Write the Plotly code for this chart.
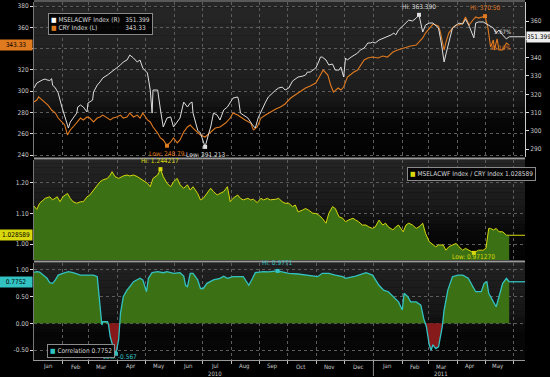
import numpy as np
import pandas as pd
import plotly.graph_objects as go

START = pd.Timestamp("2010-01-01")
END = pd.Timestamp("2011-06-13")

# ---------------- data (days since 2010-01-01, values) ----------------
msel_days = [0, 3, 9, 12, 14, 17, 19, 20, 23, 26, 30, 33, 37, 39, 42, 46, 47, 50, 53, 57, 58, 63, 64, 68, 71, 74,
             79, 82, 85, 89, 93, 96, 100, 103, 107, 111, 114, 117, 122, 125, 127, 128, 133, 136, 139, 143, 147,
             150, 154, 157, 161, 165, 168, 170, 171, 176, 179, 184, 188, 190, 193, 197, 200, 204, 208, 211, 214,
             219, 220, 222, 225, 230, 235, 238, 241, 246, 249, 252, 256, 260, 263, 267, 270, 274, 278, 281, 284,
             289, 292, 294, 297, 300, 303, 306, 308, 310, 314, 317, 321, 324, 328, 330, 333, 335, 337, 341, 344,
             348, 351, 355, 359, 362, 364, 367, 371, 375, 380, 384, 387, 389, 392, 397, 400, 403, 407, 411, 414,
             418, 421, 425, 429, 432, 435, 438, 441, 443, 446, 450, 454, 457, 461, 464, 468, 472, 473, 475, 478,
             483, 486, 489, 494, 497, 500, 504, 508, 511]
msel_vals = [323.4, 326.1, 327.8, 328.3, 327.8, 327.5, 328.5, 325.0, 323.4, 320.7, 313.0, 308.6, 301.5, 304.8,
             307.0, 309.7, 313.0, 314.1, 313.0, 310.3, 315.2, 316.8, 321.2, 325.0, 326.7, 328.9, 330.5, 331.6,
             333.2, 334.3, 336.0, 337.6, 338.7, 341.4, 339.8, 337.6, 338.7, 334.3, 331.6, 322.3, 309.7, 322.3,
             322.3, 311.4, 302.1, 307.0, 307.6, 302.1, 304.8, 307.0, 315.7, 313.0, 315.2, 315.7, 309.7, 300.4,
             298.8, 291.213, 298.8, 302.1, 309.7, 308.6, 305.9, 311.4, 313.0, 315.7, 317.9, 318.5, 316.8, 309.7,
             308.6, 307.0, 303.2, 301.5, 307.0, 313.0, 315.7, 318.5, 320.7, 322.3, 323.4, 323.9, 322.3, 323.4,
             327.2, 328.3, 329.4, 329.9, 330.5, 332.1, 332.1, 333.2, 334.3, 337.6, 340.3, 340.3, 338.7, 336.0,
             336.5, 333.2, 333.2, 334.9, 329.4, 339.8, 338.7, 340.3, 341.4, 342.5, 344.2, 345.2, 348.0, 348.0,
             348.5, 348.0, 349.6, 350.5, 351.3, 352.4, 353.4, 352.4, 355.1, 357.8, 358.9, 360.5, 360.0, 361.6,
             363.39, 354.0, 357.8, 358.9, 358.9, 357.8, 356.2, 348.0, 337.6, 342.0, 348.0, 356.2, 357.8, 358.9,
             358.3, 361.0, 357.2, 351.3, 350.8, 358.9, 359.5, 359.5, 358.5, 357.8, 356.2, 353.4, 355.1, 352.4,
             350.2, 351.399]

cry_days = [0, 3, 5, 9, 12, 15, 19, 23, 26, 30, 33, 36, 39, 42, 46, 50, 53, 57, 60, 64, 68, 71, 74, 79, 82, 85,
            89, 93, 96, 100, 103, 107, 111, 114, 117, 122, 125, 128, 133, 136, 139, 143, 147, 150, 154, 157, 161,
            165, 168, 171, 176, 179, 184, 190, 195, 200, 206, 211, 214, 219, 222, 227, 233, 236, 240, 244, 249,
            254, 260, 265, 270, 276, 281, 287, 292, 297, 303, 308, 311, 316, 319, 322, 327, 330, 333, 337, 341,
            344, 348, 351, 355, 359, 364, 370, 375, 380, 386, 391, 397, 402, 405, 411, 418, 421, 425, 429, 432,
            435, 437, 441, 443, 446, 450, 454, 457, 461, 464, 468, 472, 475, 478, 483, 485, 488, 491, 494, 495,
            498, 500, 504, 508, 511]
cry_vals = [289.9, 291.7, 294.6, 291.7, 288.9, 287.0, 282.3, 279.5, 274.8, 271.1, 268.3, 258.9, 263.6, 266.4,
            270.1, 274.8, 273.0, 275.8, 274.8, 271.1, 274.8, 275.8, 277.6, 274.8, 273.0, 274.8, 275.8, 277.6,
            274.8, 275.8, 279.5, 275.8, 277.6, 274.8, 279.5, 273.0, 271.1, 266.4, 260.7, 256.1, 254.2, 248.79,
            252.3, 256.1, 251.4, 254.2, 261.7, 266.4, 268.3, 265.4, 261.7, 258.9, 257.0, 261.7, 265.4, 266.4,
            270.1, 274.8, 279.5, 277.6, 275.8, 273.0, 270.1, 263.6, 266.4, 274.8, 277.6, 280.5, 283.3, 285.2,
            288.0, 293.6, 296.4, 300.2, 303.0, 304.9, 307.7, 315.2, 319.9, 315.2, 305.8, 299.2, 303.0, 301.1,
            303.9, 313.3, 316.1, 318.0, 319.9, 323.7, 329.3, 331.2, 332.1, 331.2, 333.0, 332.1, 336.8, 338.7,
            340.6, 341.5, 342.4, 343.4, 350.0, 354.6, 359.3, 363.1, 362.2, 361.0, 355.6, 338.7, 346.2, 354.6,
            359.3, 362.2, 362.2, 364.0, 369.7, 362.2, 366.9, 369.7, 368.7, 369.5, 370.50, 360.3, 341.5, 348.1,
            338.7, 349.1, 338.7, 338.7, 345.3, 343.33]

ratio_days = [0, 3, 6, 12, 17, 20, 25, 28, 31, 36, 39, 42, 46, 50, 53, 57, 60, 64, 68, 71, 74, 79, 82, 84, 87,
              91, 96, 100, 103, 107, 111, 114, 117, 122, 125, 128, 133, 136, 139, 143, 147, 150, 154, 157, 161,
              165, 168, 171, 176, 179, 182, 186, 190, 193, 197, 200, 204, 208, 211, 214, 219, 222, 225, 230, 233,
              236, 240, 244, 247, 251, 254, 260, 263, 267, 270, 274, 278, 281, 284, 289, 292, 295, 300, 303, 306,
              310, 314, 317, 321, 324, 328, 332, 335, 338, 343, 346, 349, 353, 357, 360, 364, 367, 371, 375, 378,
              381, 386, 389, 392, 397, 400, 403, 407, 411, 414, 418, 421, 425, 429, 432, 435, 440, 443, 446, 450,
              454, 457, 461, 464, 468, 472, 473, 475, 478, 483, 486, 489, 491, 494, 497, 500, 504, 508, 511]
ratio_vals = [1.124, 1.113, 1.133, 1.149, 1.154, 1.144, 1.154, 1.138, 1.154, 1.165, 1.149, 1.138, 1.133, 1.138,
              1.138, 1.154, 1.160, 1.176, 1.193, 1.203, 1.209, 1.214, 1.225, 1.236, 1.220, 1.214, 1.222, 1.225,
              1.222, 1.225, 1.220, 1.214, 1.209, 1.198, 1.187, 1.214, 1.225, 1.244217, 1.220, 1.198, 1.187, 1.203,
              1.214, 1.193, 1.182, 1.193, 1.176, 1.187, 1.165, 1.144, 1.149, 1.165, 1.182, 1.171, 1.160, 1.165,
              1.171, 1.187, 1.138, 1.149, 1.160, 1.149, 1.144, 1.149, 1.144, 1.146, 1.135, 1.149, 1.144, 1.149,
              1.144, 1.146, 1.149, 1.138, 1.133, 1.133, 1.122, 1.127, 1.105, 1.111, 1.116, 1.111, 1.100, 1.100,
              1.095, 1.084, 1.068, 1.100, 1.122, 1.116, 1.089, 1.084, 1.073, 1.078, 1.084, 1.078, 1.073, 1.062,
              1.062, 1.056, 1.051, 1.056, 1.078, 1.062, 1.068, 1.056, 1.046, 1.056, 1.062, 1.040, 1.062, 1.068,
              1.062, 1.051, 1.056, 1.068, 1.035, 1.008, 0.997, 0.991, 0.997, 0.997, 0.980, 0.991, 0.997, 1.002,
              0.991, 0.980, 0.986, 0.980, 0.975, 0.97127, 0.975, 0.980, 0.980, 0.986, 1.051, 1.051, 1.046, 1.051,
              1.040, 1.040, 1.029, 1.028589]

corr_days = [0, 3, 6, 10, 14, 17, 20, 23, 26, 31, 37, 42, 50, 57, 64, 68, 69, 71, 73, 74, 79, 80, 82, 85, 88, 91,
             93, 96, 100, 103, 107, 114, 117, 121, 123, 127, 133, 139, 143, 150, 157, 161, 163, 165, 168, 171, 176,
             179, 182, 186, 193, 200, 204, 208, 214, 225, 231, 235, 238, 247, 252, 262, 268, 274, 284, 295, 305,
             310, 317, 324, 332, 335, 346, 357, 364, 371, 376, 381, 387, 392, 396, 398, 402, 405, 411, 416, 419,
             422, 425, 427, 429, 432, 435, 439, 441, 445, 450, 456, 461, 467, 472, 475, 481, 484, 487, 489, 494,
             497, 500, 504, 508, 511]
corr_vals = [0.95, 0.963, 0.955, 0.90, 0.84, 0.757, 0.746, 0.81, 0.90, 0.933, 0.963, 0.944, 0.90, 0.90, 0.90,
             0.87, 0.683, 0.248, -0.03, 0.03, 0.03, -0.01, -0.25, -0.437, -0.567, -0.31, 0.187, 0.496, 0.62, 0.683,
             0.776, 0.84, 0.81, 0.59, 0.84, 0.944, 0.963, 0.944, 0.963, 0.933, 0.944, 0.88, 0.71, 0.683, 0.933,
             0.933, 0.81, 0.65, 0.65, 0.746, 0.81, 0.84, 0.88, 0.84, 0.87, 0.87, 0.71, 0.84, 0.944, 0.963, 0.96,
             0.9771, 0.96, 0.933, 0.92, 0.90, 0.87, 0.933, 0.933, 0.90, 0.87, 0.84, 0.88, 0.944, 0.90, 0.71, 0.62,
             0.59, 0.496, 0.40, 0.248, 0.56, 0.496, 0.40, 0.40, 0.34, 0.093, -0.063, -0.40, -0.50, -0.40, -0.47,
             -0.437, -0.063, 0.248, 0.62, 0.87, 0.90, 0.90, 0.84, 0.683, 0.59, 0.59, 0.746, 0.776, 0.56, 0.40,
             0.31, 0.496, 0.746, 0.84, 0.7752]

month_labels = ["Jan", "Feb", "Mar", "Apr", "May", "Jun", "Jul", "Aug", "Sep", "Oct", "Nov", "Dec",
                "Jan", "Feb", "Mar", "Apr", "May"]
year_labels = ["2010", "2011"]
year_label_dates = ["2010-07-15", "2011-03-15"]
left1_ticks = [240, 260, 280, 300, 320, 340, 360, 380]
right1_ticks = [290, 300, 310, 320, 330, 340, 350, 360]
ratio_ticks = [1.00, 1.10, 1.20]
corr_ticks = [-0.50, 0.00, 0.50, 1.00]
pct_labels = ["5.67%", "35.19%"]

# ---------------- styling ----------------
FONT = "DejaVu Sans Condensed, Liberation Sans Narrow, DejaVu Sans, sans-serif"
WHITE = "#dedede"
ORANGE = "#e07a1f"
YELLOW = "#d8d80c"
CYAN = "#33c2c2"
GREEN = "#3c7014"
RED = "#861a1a"
GRID = "#5c5c5c"
TICKC = "#c8c8c8"


def to_dates(days):
    return START + pd.to_timedelta(np.asarray(days, dtype=float), unit="D")


def py(px):  # pixel row -> paper y
    return (360 - px) / 358


def px_x(px):  # pixel column -> paper x
    return (px - 34) / 491


msel_d = to_dates(msel_days)
cry_d = to_dates(cry_days)
ratio_d = to_dates(ratio_days)
corr_d = to_dates(corr_days)

month_pos = pd.date_range("2010-01-01", periods=len(month_labels), freq="MS") + pd.Timedelta(days=14)
month_bounds = pd.date_range("2010-02-01", "2011-06-01", freq="MS")


def split_sign(days, vals):
    xs, pos, neg = [], [], []
    for i, v in enumerate(vals):
        if i > 0:
            a = vals[i - 1]
            if a * v < 0:
                t = a / (a - v)
                xs.append(days[i - 1] + t * (days[i] - days[i - 1]))
                pos.append(0.0)
                neg.append(0.0)
        xs.append(days[i])
        pos.append(max(v, 0.0))
        neg.append(min(v, 0.0))
    return to_dates(xs), pos, neg


fig = go.Figure()

# ---- panel 1 ----
fig.add_trace(go.Scatter(x=cry_d, y=cry_vals, mode="lines", line=dict(color=ORANGE, width=1.1),
                         xaxis="x3", yaxis="y", hoverinfo="skip"))
fig.add_trace(go.Scatter(x=msel_d, y=msel_vals, mode="lines", line=dict(color=WHITE, width=1),
                         xaxis="x3", yaxis="y4", hoverinfo="skip"))
fig.add_trace(go.Scatter(x=[msel_d[-1], END], y=[msel_vals[-1], msel_vals[-1]], mode="lines",
                         line=dict(color=WHITE, width=1), xaxis="x3", yaxis="y4", hoverinfo="skip"))

# ---- panel 2 ----
fig.add_trace(go.Scatter(x=ratio_d, y=ratio_vals, mode="lines", fill="tozeroy", fillcolor=GREEN,
                         line=dict(color=YELLOW, width=1), xaxis="x2", yaxis="y2", hoverinfo="skip"))
fig.add_trace(go.Scatter(x=[ratio_d[-1], END], y=[ratio_vals[-1], ratio_vals[-1]], mode="lines",
                         line=dict(color=YELLOW, width=1), xaxis="x2", yaxis="y2", hoverinfo="skip"))

# ---- panel 3 ----
cx, cpos, cneg = split_sign(corr_days, corr_vals)
fig.add_trace(go.Scatter(x=cx, y=cpos, mode="lines", fill="tozeroy", fillcolor=GREEN,
                         line=dict(width=0, color=GREEN), xaxis="x", yaxis="y3", hoverinfo="skip"))
fig.add_trace(go.Scatter(x=cx, y=cneg, mode="lines", fill="tozeroy", fillcolor=RED,
                         line=dict(width=0, color=RED), xaxis="x", yaxis="y3", hoverinfo="skip"))
fig.add_trace(go.Scatter(x=corr_d, y=corr_vals, mode="lines", line=dict(color=CYAN, width=1.3),
                         xaxis="x", yaxis="y3", hoverinfo="skip"))
fig.add_trace(go.Scatter(x=[corr_d[-1], END], y=[corr_vals[-1], corr_vals[-1]], mode="lines",
                         line=dict(color=CYAN, width=1.3), xaxis="x", yaxis="y3", hoverinfo="skip"))

# ---- hi / low markers and labels ----
annotations = []


def extreme(dates, vals, kind, xa, ya, color, fmt, yshift=None, xshift=0):
    i = int(np.argmax(vals)) if kind == "Hi" else int(np.argmin(vals))
    fig.add_trace(go.Scatter(x=[dates[i]], y=[vals[i]], mode="markers",
                             marker=dict(symbol="square", size=4, color=color),
                             xaxis=xa, yaxis=ya, hoverinfo="skip"))
    if yshift is None:
        yshift = 2 if kind == "Hi" else -2
        yanchor = "bottom" if kind == "Hi" else "top"
    else:
        yanchor = "middle"
    annotations.append(dict(x=dates[i], y=vals[i], xref=xa, yref=ya, showarrow=False,
                            text=f"{kind}: {vals[i]:{fmt}}", font=dict(size=6.5, color=color, family=FONT),
                            yanchor=yanchor, yshift=yshift, xshift=xshift))


extreme(msel_d, msel_vals, "Hi", "x3", "y4", WHITE, ".3f")
extreme(msel_d, msel_vals, "Low", "x3", "y4", WHITE, ".3f")
extreme(cry_d, cry_vals, "Hi", "x3", "y", ORANGE, ".2f")
extreme(cry_d, cry_vals, "Low", "x3", "y", ORANGE, ".2f")
extreme(ratio_d, ratio_vals, "Hi", "x2", "y2", YELLOW, ".6f")
extreme(ratio_d, ratio_vals, "Low", "x2", "y2", YELLOW, ".6f", yshift=-4)
extreme(corr_d, corr_vals, "Hi", "x", "y3", CYAN, ".4f")
extreme(corr_d, corr_vals, "Low", "x", "y3", CYAN, ".3f", yshift=-3.5, xshift=4)

# percent labels at end of panel 1
annotations.append(dict(x=px_x(513), xref="paper", y=msel_vals[-1], yref="y4", yshift=5, showarrow=False,
                        text=pct_labels[0], font=dict(size=6, color=WHITE, family=FONT)))
annotations.append(dict(x=px_x(513), xref="paper", y=cry_vals[-1], yref="y", yshift=-2, showarrow=False,
                        text=pct_labels[1], font=dict(size=6, color=ORANGE, family=FONT)))

# last-value boxes on axes
annotations.append(dict(x=0, xref="paper", xanchor="right", xshift=-1, y=cry_vals[-1], yref="y",
                        text=f"{cry_vals[-1]:.2f}", showarrow=False, bgcolor=ORANGE, width=30, borderpad=1,
                        font=dict(size=6.5, color="#000", family=FONT)))
annotations.append(dict(x=1, xref="paper", xanchor="left", xshift=1, y=msel_vals[-1], yref="y4",
                        text=f"{msel_vals[-1]:.3f}", showarrow=False, bgcolor="#eeeeee", width=22, borderpad=1,
                        font=dict(size=6.5, color="#000", family=FONT)))
annotations.append(dict(x=0, xref="paper", xanchor="right", xshift=-1, y=ratio_vals[-1], yref="y2",
                        text=f"{ratio_vals[-1]:.6f}", showarrow=False, bgcolor=YELLOW, width=30, borderpad=1,
                        font=dict(size=6.5, color="#000", family=FONT)))
annotations.append(dict(x=0, xref="paper", xanchor="right", xshift=-1, y=corr_vals[-1], yref="y3",
                        text=f"{corr_vals[-1]:.4f}", showarrow=False, bgcolor=CYAN, width=30, borderpad=1,
                        font=dict(size=6.5, color="#000", family=FONT)))

# legends
NB = "\u00a0"
annotations.append(dict(
    x=px_x(48), y=py(13), xref="paper", yref="paper", xanchor="left", yanchor="top", showarrow=False,
    align="left", bgcolor="rgba(0,0,0,0.85)", bordercolor="#8a8a8a", borderwidth=1, borderpad=2,
    font=dict(size=6.5, color="#d8d8d8", family=FONT),
    text=(f"<span style='color:#ffffff'>■</span> MSELACWF Index (R){NB * 3}{msel_vals[-1]:.3f}<br>"
          f"<span style='color:{ORANGE}'>■</span> CRY Index (L){NB * 15}{cry_vals[-1]:.2f}")))
annotations.append(dict(
    x=px_x(407), y=py(167), xref="paper", yref="paper", xanchor="left", yanchor="top", showarrow=False,
    align="left", bgcolor="rgba(0,0,0,0.85)", bordercolor="#8a8a8a", borderwidth=1, borderpad=2,
    font=dict(size=6.5, color="#d8d8d8", family=FONT),
    text=f"<span style='color:{YELLOW}'>■</span> MSELACWF Index / CRY Index {ratio_vals[-1]:.6f}"))
annotations.append(dict(
    x=px_x(47), y=py(344), xref="paper", yref="paper", xanchor="left", yanchor="top", showarrow=False,
    align="left", bgcolor="rgba(0,0,0,0.85)", bordercolor="#8a8a8a", borderwidth=1, borderpad=2,
    font=dict(size=6.5, color="#d8d8d8", family=FONT),
    text=f"<span style='color:{CYAN}'>■</span> Correlation {corr_vals[-1]:.4f}"))

# month labels and year labels under the bottom axis
for lab, d in zip(month_labels, month_pos):
    annotations.append(dict(x=d, xref="x", y=py(366), yref="paper", showarrow=False, text=lab,
                            yanchor="middle", font=dict(size=6, color=TICKC, family=FONT)))
for lab, d in zip(year_labels, year_label_dates):
    annotations.append(dict(x=d, xref="x", y=py(373.5), yref="paper", showarrow=False, text=lab,
                            yanchor="middle", font=dict(size=6, color=TICKC, family=FONT)))

# ---------------- background gradients & separators ----------------
shapes = []


def gradient(top_px, bot_px, stops, n=28):
    fs = [s[0] for s in stops]
    gs = [s[1] for s in stops]
    h = (bot_px - top_px) / n
    for i in range(n):
        g = int(round(np.interp((i + 0.5) / n, fs, gs)))
        shapes.append(dict(type="rect", xref="paper", yref="paper", x0=0, x1=1,
                           y0=py(top_px + (i + 1) * h + 0.3), y1=py(top_px + i * h),
                           fillcolor=f"rgb({g},{g},{g})", line=dict(width=0), layer="below"))


gradient(2, 157, [(0, 38), (0.55, 30), (0.66, 20), (0.78, 6), (1, 2)])
gradient(160, 260, [(0, 36), (0.45, 26), (0.72, 8), (1, 3)])
gradient(263, 360, [(0, 34), (0.5, 22), (0.72, 6), (1, 8)])

for ypx, w, c in [(158.5, 2, "#9a9a9a"), (261.5, 2, "#9a9a9a"), (1.0, 1.5, "#777777")]:
    shapes.append(dict(type="line", xref="paper", yref="paper", x0=0, x1=1, y0=py(ypx), y1=py(ypx),
                       line=dict(color=c, width=w)))
shapes.append(dict(type="line", xref="x", yref="paper", x0="2011-01-01", x1="2011-01-01",
                   y0=py(376), y1=py(362), line=dict(color="#888", width=1)))

# ---------------- axes ----------------
tickfont = dict(size=6.5, color=TICKC, family=FONT)
minor_grid = dict(tickmode="array", tickvals=month_bounds, showgrid=True, gridcolor=GRID,
                  griddash="dot", gridwidth=1)
xcommon = dict(type="date", range=[START, END], showgrid=False, zeroline=False, fixedrange=True)
# tick labels hidden under the last-value boxes, as in the original
right1_text = ["" if abs(v - msel_vals[-1]) < 4 else str(v) for v in right1_ticks]
left1_text = ["" if abs(v - cry_vals[-1]) < 6 else str(v) for v in left1_ticks]

fig.update_layout(
    width=550, height=377,
    margin=dict(l=34, r=25, t=2, b=17),
    paper_bgcolor="#000000", plot_bgcolor="rgba(0,0,0,0)",
    showlegend=False,
    font=dict(family=FONT, size=7, color=TICKC),
    xaxis=dict(**xcommon, domain=[0, 1], anchor="y3", showticklabels=False, ticks="",
               showline=True, linecolor="#999",
               minor=dict(**minor_grid, ticks="outside", ticklen=3, tickcolor="#bbb")),
    xaxis2=dict(**xcommon, domain=[0, 1], anchor="y2", matches="x", showticklabels=False, ticks="",
                minor=minor_grid),
    xaxis3=dict(**xcommon, domain=[0, 1], anchor="y", matches="x", showticklabels=False, ticks="",
                minor=minor_grid),
    yaxis=dict(domain=[py(157), py(2)], anchor="x3", range=[238.2, 383.8], tickmode="array",
               tickvals=left1_ticks, ticktext=left1_text, showgrid=True,
               gridcolor=GRID, griddash="dot", zeroline=False, ticks="outside", ticklen=3, tickcolor="#ddd",
               showline=True, linecolor="#777", tickfont=tickfont, fixedrange=True),
    yaxis4=dict(overlaying="y", side="right", anchor="x3", range=[285.7, 370.4], tickmode="array",
                tickvals=right1_ticks, ticktext=right1_text, showgrid=False,
                zeroline=False, ticks="outside", ticklen=3, tickcolor="#ddd", showline=True,
                linecolor="#cccccc", tickfont=tickfont, fixedrange=True),
    yaxis2=dict(domain=[py(260), py(160)], anchor="x2", range=[0.948, 1.274], tickmode="array",
                tickvals=ratio_ticks, ticktext=[f"{v:.2f}" for v in ratio_ticks], showgrid=True,
                gridcolor=GRID, griddash="dot", zeroline=False, ticks="outside", ticklen=3, tickcolor="#ddd",
                showline=True, linecolor="#777", tickfont=tickfont, fixedrange=True),
    yaxis3=dict(domain=[0, py(263)], anchor="x", range=[-0.683, 1.125], tickmode="array",
                tickvals=corr_ticks, ticktext=[f"{v:.2f}" for v in corr_ticks], showgrid=True,
                gridcolor=GRID, griddash="dot", zeroline=False, ticks="outside", ticklen=3, tickcolor="#ddd",
                showline=True, linecolor="#777", tickfont=tickfont, fixedrange=True),
    annotations=annotations,
    shapes=shapes,
)

fig.write_html("out.html", config={"displayModeBar": False},
               post_script="document.body.style.margin='0';document.body.style.padding='0';"
                           "document.documentElement.style.overflow='hidden';")
